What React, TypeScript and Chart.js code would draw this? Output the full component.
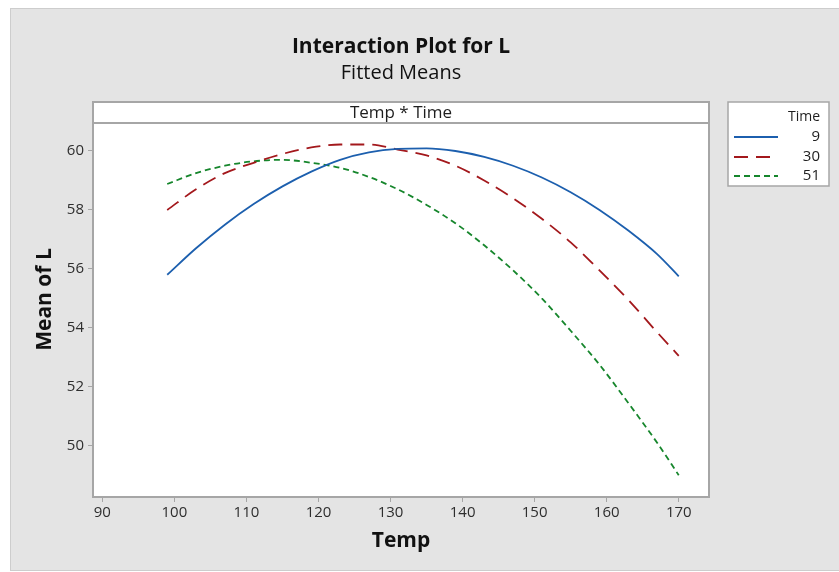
import React, { useEffect, useRef } from 'react';
import { Chart, registerables } from 'chart.js';

Chart.register(...registerables);

// Fitted means of L across Temp, one curve per Time level
const temps = [99, 103, 107, 111, 115, 119, 123, 127, 131, 135, 139, 143, 147, 151, 155, 159, 163, 167, 170];
const time9 = [55.8, 56.7, 57.5, 58.2, 58.8, 59.3, 59.7, 59.95, 60.07, 60.09, 60.0, 59.8, 59.5, 59.1, 58.6, 58.0, 57.3, 56.5, 55.75];
const time30 = [58.0, 58.7, 59.25, 59.6, 59.9, 60.12, 60.22, 60.22, 60.05, 59.85, 59.5, 59.0, 58.4, 57.7, 56.9, 55.95, 54.95, 53.85, 53.05];
const time51 = [58.88, 59.25, 59.5, 59.65, 59.7, 59.6, 59.43, 59.12, 58.7, 58.17, 57.55, 56.8, 55.95, 55.0, 53.9, 52.75, 51.45, 50.1, 49.0];

const xTicks = [90, 100, 110, 120, 130, 140, 150, 160, 170];
const yTicks = [50, 52, 54, 56, 58, 60];

const seriesNames = ['9', '30', '51'];
const seriesValues = [time9, time30, time51];
const seriesColors = ['#1c5fae', '#a3181c', '#16862c'];
const seriesDashes: number[][] = [[], [14, 8], [6, 4]];

const FONT = "'Open Sans', 'Noto Sans', sans-serif";
const TEXT = '#1e1e1e';
const FRAME = '#a6a6a6';

const decor = {
  id: 'decor',
  beforeDraw(chart: any) {
    const { ctx, width, height, chartArea: a } = chart;
    ctx.save();
    ctx.fillStyle = '#ffffff';
    ctx.fillRect(0, 0, width, height);
    ctx.fillStyle = '#e4e4e4';
    ctx.fillRect(10, 8, width - 10, height - 10);
    ctx.strokeStyle = '#cdcdcd';
    ctx.lineWidth = 1;
    ctx.strokeRect(10.5, 8.5, width, height - 10);
    // plot panel with its header strip
    ctx.fillStyle = '#ffffff';
    ctx.fillRect(a.left, 102, a.right - a.left, a.bottom - 102);
    ctx.restore();
  },
  afterDraw(chart: any) {
    const { ctx, chartArea: a } = chart;
    ctx.save();
    // frame and strip divider
    ctx.strokeStyle = FRAME;
    ctx.lineWidth = 2;
    ctx.strokeRect(a.left, 102, a.right - a.left, a.bottom - 102);
    ctx.beginPath();
    ctx.moveTo(a.left, a.top);
    ctx.lineTo(a.right, a.top);
    ctx.stroke();

    const cx = (a.left + a.right) / 2;
    ctx.fillStyle = TEXT;
    ctx.textAlign = 'center';
    ctx.textBaseline = 'middle';
    ctx.font = `17px ${FONT}`;
    ctx.fillText('Temp * Time', cx, (102 + a.top) / 2 + 1);

    // titles
    ctx.fillStyle = '#111111';
    ctx.font = `bold 21px ${FONT}`;
    ctx.fillText('Interaction Plot for L', cx, 47);
    ctx.font = `20px ${FONT}`;
    ctx.fillText('Fitted Means', cx, 73);

    // axis titles
    ctx.font = `bold 21px ${FONT}`;
    ctx.fillText('Temp', cx, 541);
    ctx.save();
    ctx.translate(45, (102 + a.bottom) / 2);
    ctx.rotate(-Math.PI / 2);
    ctx.fillText('Mean of L', 0, 0);
    ctx.restore();

    // legend box
    const lx = 728, ly = 102, lw = 101, lh = 84;
    ctx.fillStyle = '#ffffff';
    ctx.fillRect(lx, ly, lw, lh);
    ctx.strokeStyle = FRAME;
    ctx.lineWidth = 1.5;
    ctx.strokeRect(lx, ly, lw, lh);
    ctx.fillStyle = TEXT;
    ctx.textAlign = 'right';
    ctx.font = `14px ${FONT}`;
    ctx.fillText('Time', 820, 117);
    const rows = [137, 157, 176];
    seriesNames.forEach((name, i) => {
      const y = rows[i];
      ctx.strokeStyle = seriesColors[i];
      ctx.lineWidth = 2;
      ctx.setLineDash(seriesDashes[i]);
      ctx.beginPath();
      ctx.moveTo(734, y);
      ctx.lineTo(778, y);
      ctx.stroke();
      ctx.setLineDash([]);
      ctx.fillStyle = TEXT;
      ctx.font = `15px ${FONT}`;
      ctx.fillText(name, 820, y);
    });
    ctx.restore();
  },
};

export default function App() {
  const ref = useRef<HTMLCanvasElement | null>(null);

  useEffect(() => {
    if (!ref.current) return;
    const chart = new Chart(ref.current, {
      type: 'line',
      data: {
        datasets: seriesNames.map((name, i) => ({
          label: name,
          data: temps.map((t, k) => ({ x: t, y: seriesValues[i][k] })),
          borderColor: seriesColors[i],
          borderWidth: 1.8,
          borderDash: seriesDashes[i],
          pointRadius: 0,
          cubicInterpolationMode: 'monotone' as const,
          fill: false,
        })),
      },
      options: {
        responsive: false,
        animation: false,
        layout: { padding: { left: 0, right: 130, top: 123, bottom: 0 } },
        plugins: {
          legend: { display: false },
          title: { display: false },
          tooltip: { enabled: false },
        },
        scales: {
          x: {
            type: 'linear',
            min: 88.7,
            max: 174.2,
            afterBuildTicks: (s: any) => {
              s.ticks = xTicks.map((v) => ({ value: v }));
            },
            afterFit: (s: any) => {
              s.height = 75;
            },
            grid: { display: true, drawOnChartArea: false, drawTicks: true, tickLength: 5, color: FRAME },
            border: { display: false },
            ticks: { color: '#2e2e2e', font: { family: FONT, size: 15 }, padding: 2, maxRotation: 0 },
          },
          y: {
            type: 'linear',
            min: 48.26,
            max: 60.95,
            afterBuildTicks: (s: any) => {
              s.ticks = yTicks.map((v) => ({ value: v }));
            },
            afterFit: (s: any) => {
              s.width = 93;
            },
            grid: { display: true, drawOnChartArea: false, drawTicks: true, tickLength: 5, color: FRAME },
            border: { display: false },
            ticks: { color: '#2e2e2e', font: { family: FONT, size: 15 }, padding: 4 },
          },
        },
      },
      plugins: [decor],
    });
    return () => chart.destroy();
  }, []);

  return (
    <div style={{ position: 'fixed', left: 0, top: 0, width: 839, height: 572 }}>
      <canvas ref={ref} width={839} height={572} style={{ display: 'block' }} />
    </div>
  );
}
